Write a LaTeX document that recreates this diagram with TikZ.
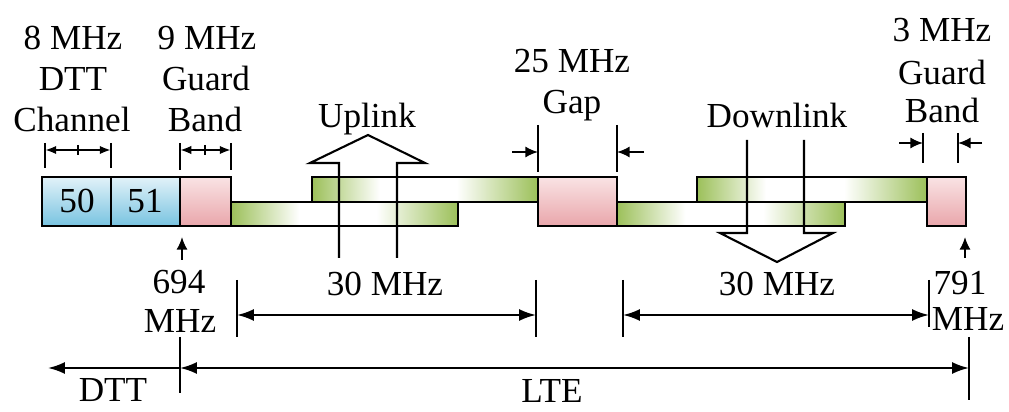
\documentclass[tikz,border=0pt]{standalone}
\usepackage{fontspec}
\setmainfont{Liberation Serif}
\usetikzlibrary{arrows.meta}
\definecolor{grn}{HTML}{9CC05A}
\definecolor{bluetop}{HTML}{E2F2F9}
\definecolor{bluebot}{HTML}{78C3E0}
\definecolor{redtop}{HTML}{F9E3E4}
\definecolor{redbot}{HTML}{E9A6AB}
\pgfdeclarehorizontalshading{gwg}{100bp}{color(0bp)=(grn); color(25bp)=(grn); color(40bp)=(white); color(57bp)=(white); color(75bp)=(grn); color(100bp)=(grn)}
\begin{document}
\begin{tikzpicture}[x=0.025cm,y=-0.025cm, line width=1.5pt,
  lbl/.style={anchor=base, inner sep=0pt, font=\fontsize{25}{30}\selectfont},
  bluebox/.style={draw, top color=bluetop, bottom color=bluebot},
  redbox/.style={draw, top color=redtop, bottom color=redbot},
  greenbar/.style={draw, shading=gwg},
  dim/.style={{Latex[length=12pt,width=8.5pt]}-{Latex[length=12pt,width=8.5pt]}},
  sdim/.style={{Latex[length=8pt,width=6pt]}-{Latex[length=8pt,width=6pt]}},
  ptr/.style={-{Latex[length=12pt,width=8.5pt]}},
  sptr/.style={-{Latex[length=9pt,width=8pt]}},
  tick/.style={line width=1.9pt}]
\useasboundingbox[fill=white] (0,0) rectangle (1009,412);

% green bars
\path[greenbar] (231,202) rectangle (458,226);
\path[greenbar] (312,177) rectangle (538,202);
\path[greenbar] (617,202) rectangle (845,226);
\path[greenbar] (697,177) rectangle (927,202);
% boxes
\path[bluebox] (42,177) rectangle (111,226);
\path[bluebox] (111,177) rectangle (180,226);
\path[redbox] (180,177) rectangle (231,226);
\path[redbox] (538,177) rectangle (617,226);
\path[redbox] (927,177) rectangle (966,226);
\node[lbl] (n50) at (77,213) {50};
\node[lbl] (n51) at (145,213) {51};

% uplink arrow
\draw (339,258) -- (339,163) -- (310,163) -- (368,135) -- (425,163) -- (397,163) -- (397,258);
% downlink arrow
\draw (747,140) -- (747,233) -- (720,233) -- (777,262) -- (833,233) -- (804,233) -- (804,140);

% top labels
\node[lbl] (t8) at (73,50) {8 MHz};
\node[lbl] (tdtt) at (73,91) {DTT};
\node[lbl] (tch) at (72,132) {Channel};
\node[lbl] (t9) at (207,50) {9 MHz};
\node[lbl] (tgu) at (206,91) {Guard};
\node[lbl] (tba) at (205,132) {Band};
\node[lbl] (tup) at (367,128) {Uplink};
\node[lbl] (t25) at (572,73) {25 MHz};
\node[lbl] (tgap) at (572,114) {Gap};
\node[lbl] (tdown) at (777,128) {Downlink};
\node[lbl] (t3) at (942,42) {3 MHz};
\node[lbl] (tgu2) at (942,85) {Guard};
\node[lbl] (tba2) at (942,123) {Band};

% top dimension marks
\draw[tick] (45,143) -- (45,168);
\draw[tick] (111,143) -- (111,168);
\coordinate (cl) at (45,150); \coordinate (cr) at (111,150);
\draw[sdim] (cl) -- (cr);
\draw (78,145) -- (78,155);
\draw[tick] (180,143) -- (180,170);
\draw[tick] (231,143) -- (231,170);
\coordinate (gl) at (180,150); \coordinate (gr) at (231,150);
\draw[sdim] (gl) -- (gr);
\draw (205,145) -- (205,155);
\draw[tick] (538,125) -- (538,172);
\draw[tick] (617,125) -- (617,172);
\coordinate (gapa) at (512,152); \coordinate (gapb) at (538,152);
\coordinate (gapc) at (644,152); \coordinate (gapd) at (617,152);
\draw[sptr] (gapa) -- (gapb);
\draw[sptr] (gapc) -- (gapd);
\draw[tick] (923,133) -- (923,163);
\draw[tick] (958,133) -- (958,163);
\coordinate (g2a) at (899,143); \coordinate (g2b) at (923,143);
\coordinate (g2c) at (982,143); \coordinate (g2d) at (958,143);
\draw[sptr] (g2a) -- (g2b);
\draw[sptr] (g2c) -- (g2d);

% bottom frequency markers
\coordinate (f1a) at (182,260); \coordinate (f1b) at (182,237);
\draw[sptr] (f1a) -- (f1b);
\node[lbl] (t694) at (179,294) {694};
\node[lbl] (tmhz1) at (180,333) {MHz};
\coordinate (f2a) at (965,258); \coordinate (f2b) at (965,237);
\draw[sptr] (f2a) -- (f2b);
\node[lbl] (t791) at (960,295) {791};
\node[lbl] (tmhz2) at (968,331) {MHz};

% 30 MHz spans
\draw[tick] (237,280) -- (237,337);
\draw[tick] (536,280) -- (536,337);
\coordinate (u1) at (237,315); \coordinate (u2) at (536,315);
\draw[dim] (u1) -- (u2);
\node[lbl] (t30a) at (385,296) {30 MHz};
\draw[tick] (623,280) -- (623,337);
\draw[tick] (929,280) -- (929,327);
\coordinate (d1) at (623,315); \coordinate (d2) at (929,315);
\draw[dim] (d1) -- (d2);
\node[lbl] (t30b) at (777,296) {30 MHz};

% DTT / LTE
\draw[tick] (180,337) -- (180,393);
\draw[tick] (969,337) -- (969,400);
\coordinate (s0) at (48,368); \coordinate (s1) at (180,368); \coordinate (s2) at (969,368);
\draw[ptr] (s1) -- (s0);
\draw[dim] (s1) -- (s2);
\node[lbl] (tdtt2) at (113,402) {DTT};
\node[lbl] (tlte) at (552,403) {LTE};
\end{tikzpicture}
\end{document}
